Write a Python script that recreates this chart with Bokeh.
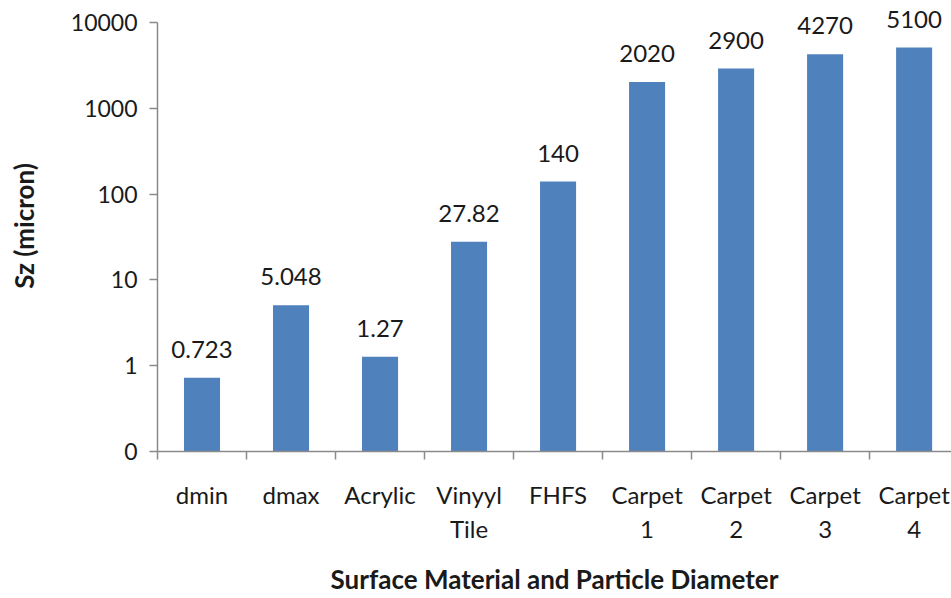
from bokeh.plotting import figure
from bokeh.models import ColumnDataSource, FixedTicker, LabelSet, Range1d
from bokeh.core.properties import value
from bokeh.embed import file_html
from bokeh.resources import INLINE

categories = ["dmin", "dmax", "Acrylic", "Vinyyl\nTile", "FHFS",
              "Carpet\n1", "Carpet\n2", "Carpet\n3", "Carpet\n4"]
values = [0.723, 5.048, 1.27, 27.82, 140, 2020, 2900, 4270, 5100]
y_ticks = [0.1, 1, 10, 100, 1000, 10000]
y_tick_labels = ["0", "1", "10", "100", "1000", "10000"]

FONT = "Lato"
BLUE = "#4f81bd"
GREY = "#8a8a8a"
TXT = "#1a1a1a"

xs = list(range(len(categories)))
src = ColumnDataSource(dict(
    x=xs, top=values, bottom=[y_ticks[0]] * len(values),
    label=[f"{v:g}" for v in values],
))

# headroom above the top tick so the value labels are not clipped
y_top = 10 ** 4.256

p = figure(width=951, height=598, output_backend="svg", toolbar_location=None,
           y_axis_type="log",
           x_range=Range1d(-0.5, len(categories) - 0.58),
           y_range=Range1d(y_ticks[0], y_top),
           min_border_left=157, min_border_right=0, min_border_top=0,
           min_border_bottom=146)
p.outline_line_color = None
p.xgrid.grid_line_color = None
p.ygrid.grid_line_color = None

p.vbar(x="x", top="top", bottom="bottom", width=0.405, source=src,
       fill_color=BLUE, line_color=None)

labels = LabelSet(x="x", y="top", text="label", source=src,
                  text_align="center", text_baseline="alphabetic", y_offset=20,
                  text_font=value(FONT), text_font_size=value("24px"),
                  text_color=TXT)
p.add_layout(labels)

# y axis
ya = p.yaxis[0]
ya.ticker = FixedTicker(ticks=y_ticks, minor_ticks=[])
ya.bounds = (y_ticks[0], y_ticks[-1])
ya.major_label_overrides = {t: s for t, s in zip(y_ticks, y_tick_labels)}
ya.axis_line_color = GREY
ya.axis_line_width = 1.5
ya.major_tick_line_color = GREY
ya.major_tick_line_width = 1.5
ya.major_tick_out = 8
ya.major_tick_in = 0
ya.major_label_standoff = 12
ya.major_label_text_font = FONT
ya.major_label_text_font_size = "23px"
ya.major_label_text_color = TXT
ya.axis_label = "Sz (micron)"
ya.axis_label_text_font = FONT
ya.axis_label_text_font_style = "bold"
ya.axis_label_text_font_size = "26px"
ya.axis_label_text_color = TXT
ya.axis_label_standoff = 28

# x axis
xa = p.xaxis[0]
xa.ticker = FixedTicker(ticks=xs, minor_ticks=[i - 0.5 for i in range(len(categories) + 1)])
xa.major_label_overrides = {i: c for i, c in zip(xs, categories)}
xa.axis_line_color = GREY
xa.axis_line_width = 1.5
xa.major_tick_out = 0
xa.major_tick_in = 0
xa.major_tick_line_color = None
xa.minor_tick_line_color = GREY
xa.minor_tick_line_width = 1.5
xa.minor_tick_out = 8
xa.minor_tick_in = 0
xa.major_label_standoff = 20
xa.major_label_text_font = FONT
xa.major_label_text_font_size = "24px"
xa.major_label_text_color = TXT
xa.axis_label = "Surface Material and Particle Diameter"
xa.axis_label_text_font = FONT
xa.axis_label_text_font_style = "bold"
xa.axis_label_text_font_size = "26px"
xa.axis_label_text_color = TXT
xa.axis_label_standoff = 17

open("out.html", "w").write(file_html(p, INLINE))
